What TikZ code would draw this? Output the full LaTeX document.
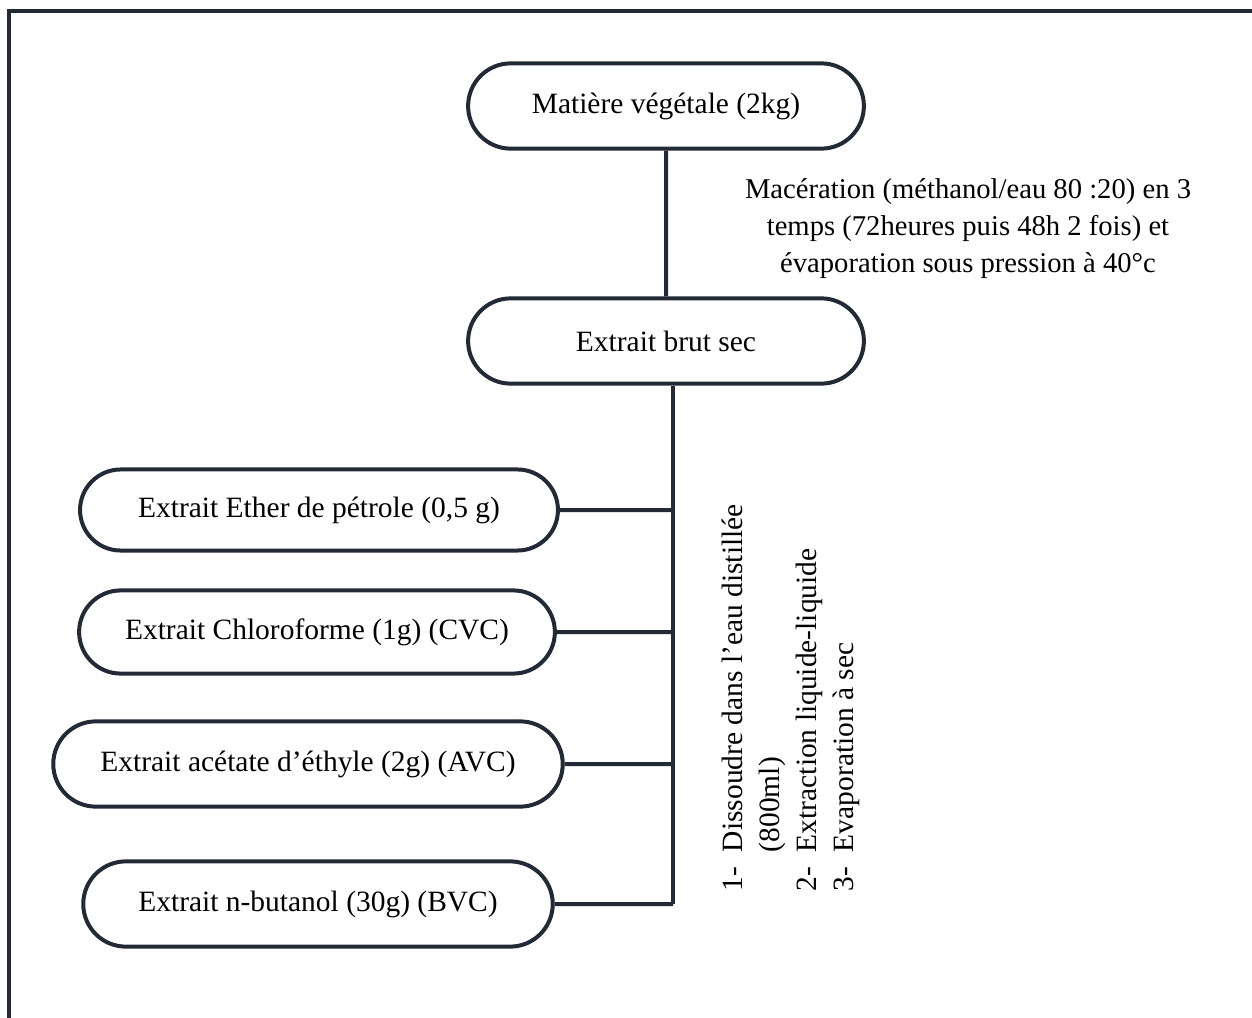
\documentclass[tikz,border=0pt]{standalone}
\usepackage{fontspec}
\setmainfont{Liberation Serif}
\usepackage{xcolor}
\usepackage{tikz}
\usetikzlibrary{shapes.misc}
\definecolor{inkblue}{HTML}{222A36}

\begin{document}
\begin{tikzpicture}[x=0.475pt, y=-0.475pt, line width=1.9pt,
  stadium/.style={draw=inkblue, rounded rectangle, minimum height=40.5pt, inner sep=0pt, font=\fontsize{14}{16}\selectfont},
  link/.style={draw=inkblue}]
\useasboundingbox (0,0) rectangle (1252,1018);
\draw[inkblue] (1252,11) -- (9,11) -- (9,1018);
\node[stadium, minimum width=188pt] (mat) at (666,106) {Matière végétale (2kg)};
\node[stadium, minimum width=188pt] (brut) at (666,341) {Extrait brut sec};
\node[stadium, minimum width=227pt, minimum height=38.5pt] (ether) at (319,510) {Extrait Ether de pétrole (0,5 g)};
\node[stadium, minimum width=226pt, minimum height=39.5pt] (chloro) at (317,632) {Extrait Chloroforme (1g) (CVC)};
\node[stadium, minimum width=242pt] (acet) at (308,764) {Extrait acétate d’éthyle (2g) (AVC)};
\node[stadium, minimum width=223pt] (buta) at (318,904) {Extrait n-butanol (30g) (BVC)};
\coordinate (foot) at (673,904);
\node[align=center, font=\fontsize{13.6}{17.6}\selectfont] (macer) at (968,229) {Macération (méthanol/eau 80 :20) en 3\\temps (72heures puis 48h 2 fois) et\\évaporation sous pression à 40°c};
\node[rotate=90, anchor=north west, inner sep=0pt, align=left, font=\fontsize{14}{17.6}\selectfont] (steps) at (720,893)
  {\makebox[18.5pt][l]{1-}Dissoudre dans l’eau distillée\\\hspace*{18.5pt}(800ml)\\\makebox[18.5pt][l]{2-}Extraction liquide-liquide\\\makebox[18.5pt][l]{3-}Evaporation à sec};
\draw[link] (mat) -- (brut);
\draw[link] (brut.south -| foot) -- (foot);
\draw[link] (ether) -- (ether -| foot);
\draw[link] (chloro) -- (chloro -| foot);
\draw[link] (acet) -- (acet -| foot);
\draw[link] (buta) -- (foot);
\end{tikzpicture}
\end{document}
